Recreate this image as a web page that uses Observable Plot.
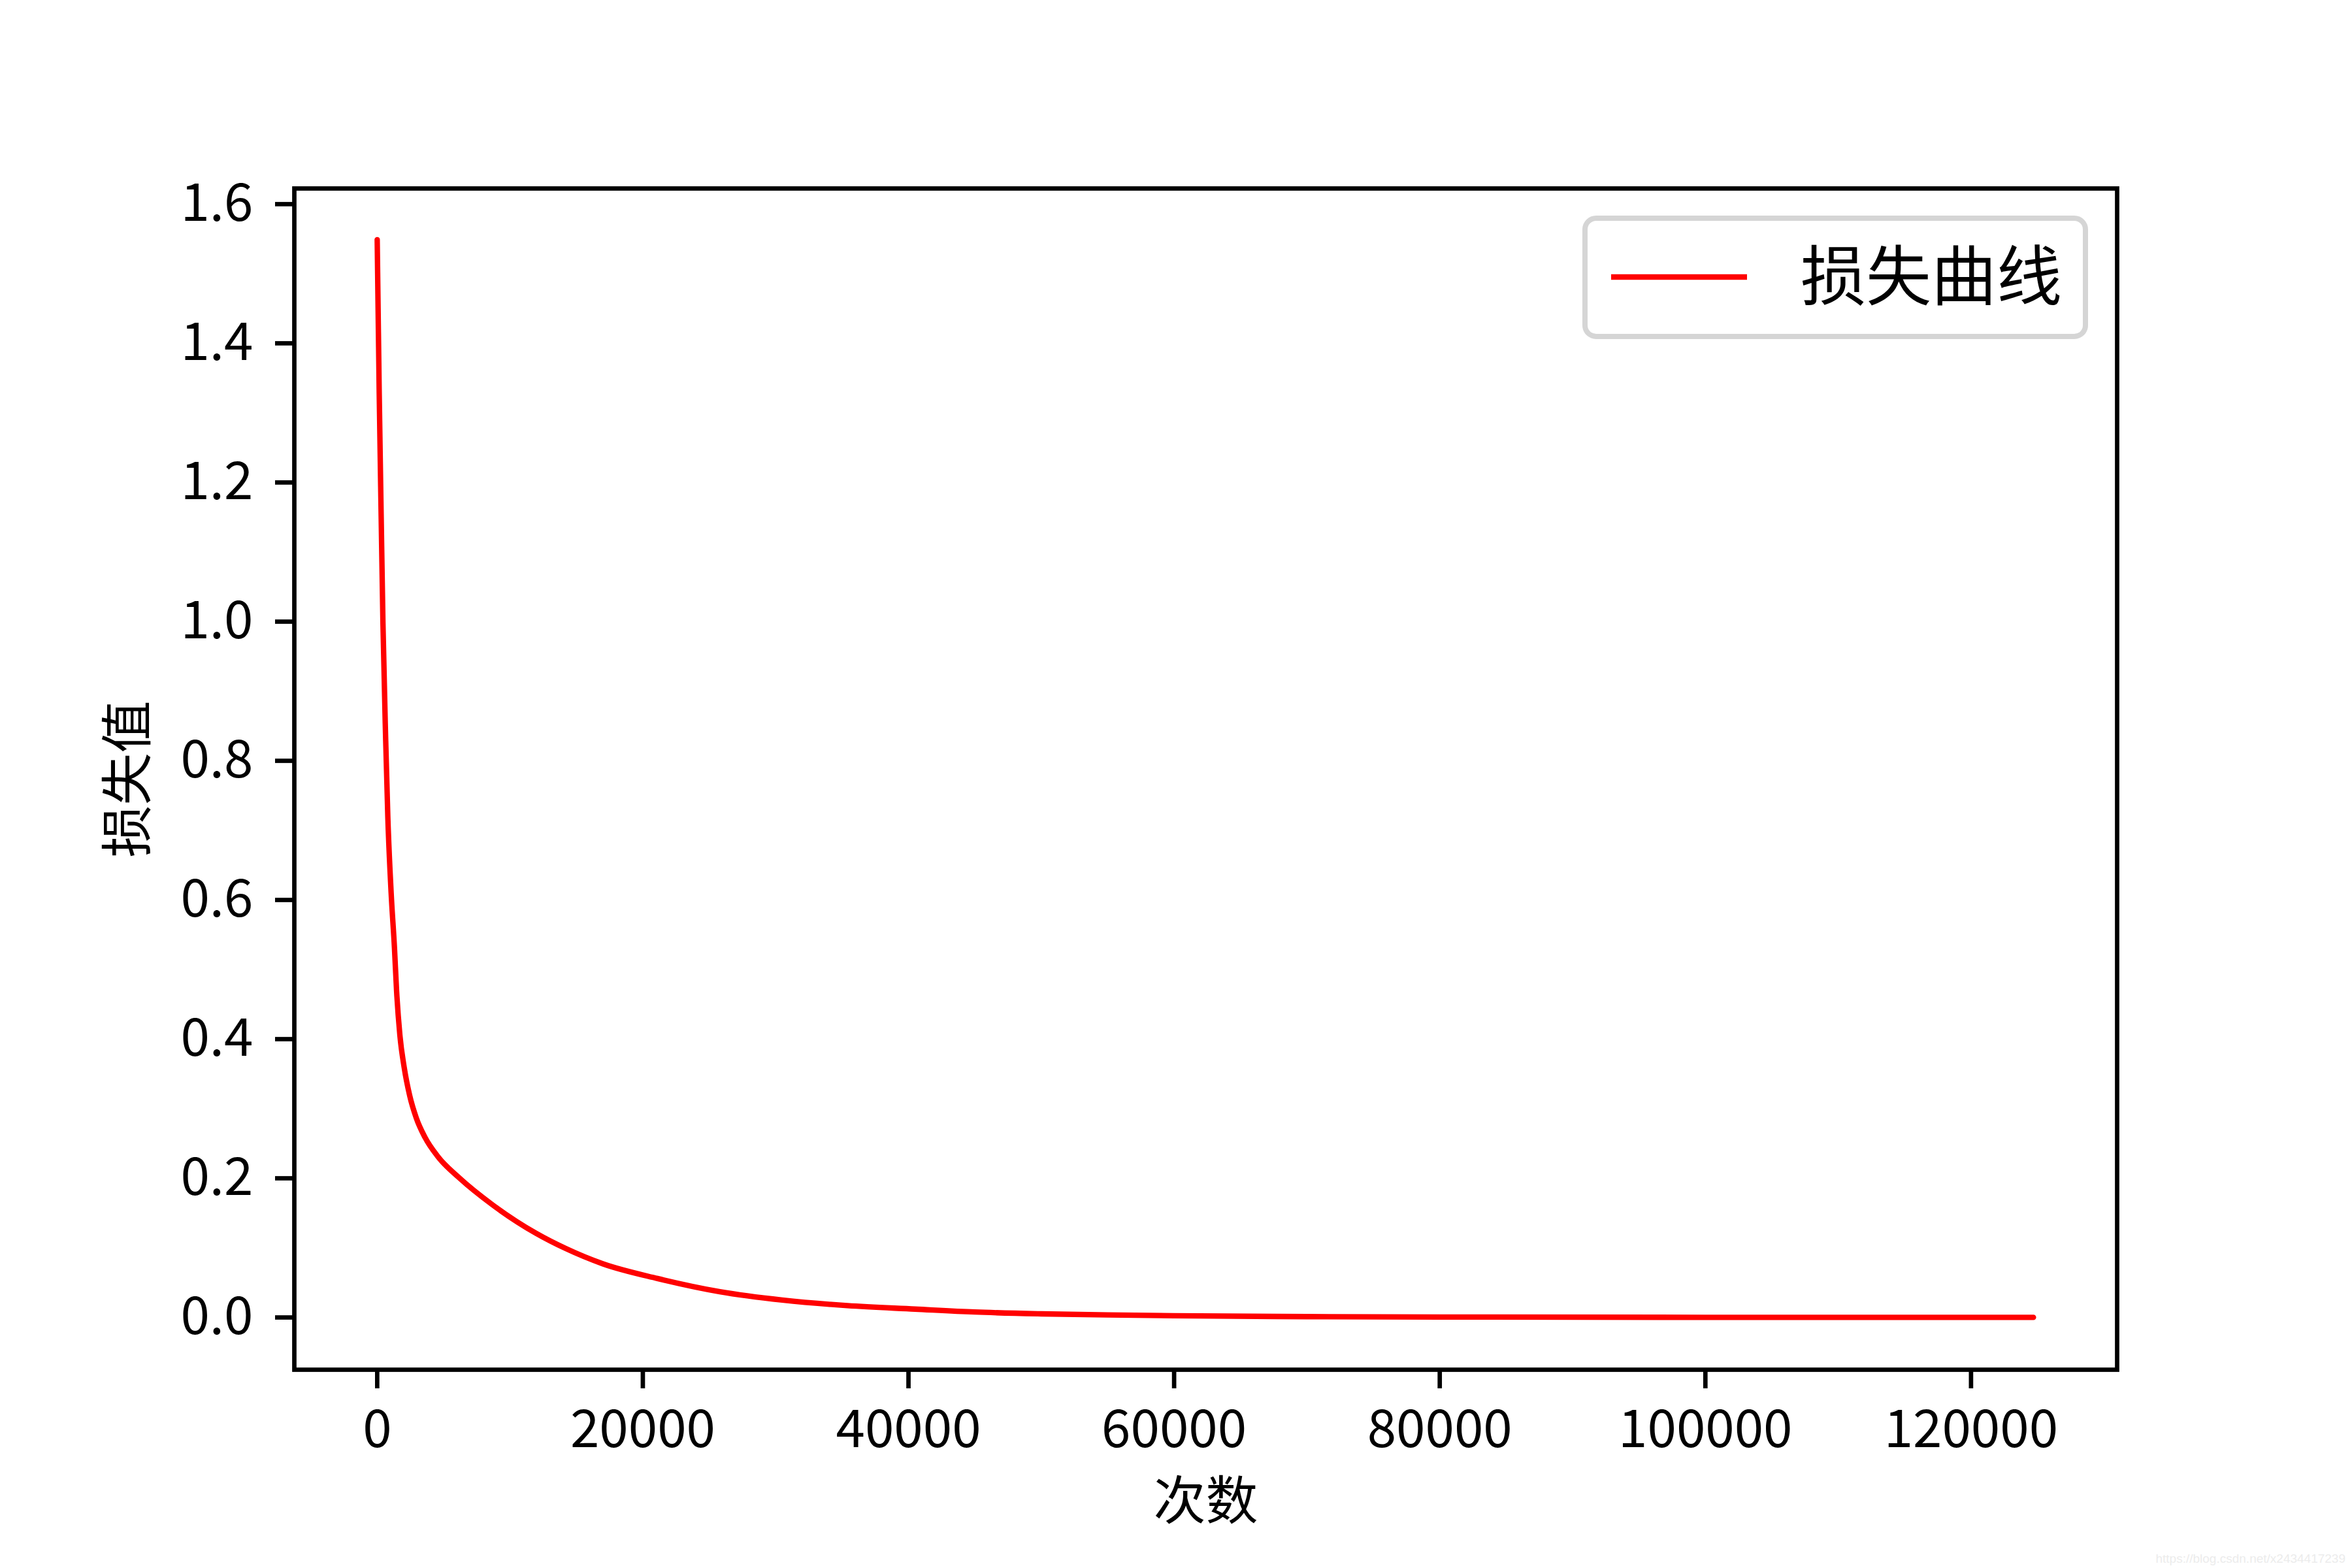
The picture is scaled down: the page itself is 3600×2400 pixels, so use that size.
<!DOCTYPE html>
<html><head><meta charset="utf-8">
<script src="https://cdn.jsdelivr.net/npm/d3@7"></script>
<script src="https://cdn.jsdelivr.net/npm/@observablehq/plot@0.6"></script>
<style>
html,body{margin:0;padding:0;background:#fff;}
#chart{width:3600px;height:2400px;}
</style></head><body><div id="chart"></div>
<script>
// Training iterations (x) and loss values (y)
const iterations = [0, 150, 300, 430, 640, 800, 1050, 1300, 1460, 1706, 2034, 2444, 2936, 3592, 4576, 6215, 8675, 11956, 14200, 17000, 21100, 25800, 30500, 35400, 40500, 45000, 50000, 55000, 60000, 70000, 80000, 100000, 124700];
const lossValues = [1.549, 1.33, 1.15, 1.0, 0.829, 0.719, 0.61, 0.531, 0.469, 0.406, 0.359, 0.319, 0.287, 0.259, 0.231, 0.200, 0.162, 0.121, 0.099, 0.077, 0.056, 0.037, 0.025, 0.017, 0.012, 0.0078, 0.0052, 0.0036, 0.0025, 0.0012, 0.0006, 0.0002, 0.0001];
const xTicks = [0, 20000, 40000, 60000, 80000, 100000, 120000];
const yTicks = [0, 0.2, 0.4, 0.6, 0.8, 1.0, 1.2, 1.4, 1.6];
const seriesName = "损失曲线";
const xLabel = "次数";
const yLabel = "损失值";
const watermark = "https://blog.csdn.net/x2434417239";

const data = iterations.map((x, i) => ({x, y: lossValues[i]}));
const font = "'Noto Sans CJK SC', 'Noto Sans', sans-serif";
const lineColor = "#ff0000";

const plot = Plot.plot({
  width: 3600, height: 2400,
  marginLeft: 450, marginRight: 360, marginTop: 288, marginBottom: 304,
  style: {fontFamily: font, background: "#fff", color: "#000", overflow: "visible"},
  x: {domain: [-6240, 131000]},
  y: {domain: [-0.0751, 1.6225]},
  marks: [
    Plot.line(data, {x: "x", y: "y", stroke: lineColor, strokeWidth: 8.3, curve: "monotone-x"}),
    Plot.frame({stroke: "#000", strokeWidth: 6.7}),
    Plot.axisX({ticks: xTicks, tickFormat: d => String(d), tickSize: 29, tickPadding: 33, strokeWidth: 6.7,
      fontSize: 80, label: xLabel, labelAnchor: "center", labelOffset: 228, labelArrow: "none"}),
    Plot.axisY({ticks: yTicks, tickFormat: d => d.toFixed(1), tickSize: 29, tickPadding: 34, strokeWidth: 6.7,
      fontSize: 80, label: yLabel, labelAnchor: "center", labelOffset: 284, labelArrow: "none"})
  ]
});
document.getElementById("chart").appendChild(plot);

// Legend inside the upper-right corner of the frame
const sx = plot.scale("x"), sy = plot.scale("y");
const frameRight = sx.range[1], frameTop = sy.range[1];
const svg = d3.select(plot);
const lg = svg.append("g");
const boxW = 766, boxH = 181;
const bx = frameRight - 48 - boxW, by = frameTop + 46;
lg.append("rect").attr("x", bx).attr("y", by).attr("width", boxW).attr("height", boxH)
  .attr("rx", 17).attr("fill", "#fff").attr("fill-opacity", 0.8)
  .attr("stroke", "#d5d5d5").attr("stroke-width", 8);
lg.append("line").attr("x1", bx + 40).attr("x2", bx + 248).attr("y1", by + 90).attr("y2", by + 90)
  .attr("stroke", lineColor).attr("stroke-width", 8.3);
lg.append("text").attr("x", bx + 330).attr("y", by + 90).attr("dy", "0.35em")
  .attr("text-anchor", "start")
  .attr("font-family", font).attr("font-size", 100).attr("fill", "#000").text(seriesName);

// Faint source watermark
svg.append("text").attr("x", 3590).attr("y", 2392).attr("text-anchor", "end")
  .attr("font-family", "'Liberation Sans', sans-serif").attr("font-size", 19).attr("fill", "#ececec").text(watermark);
</script></body></html>
